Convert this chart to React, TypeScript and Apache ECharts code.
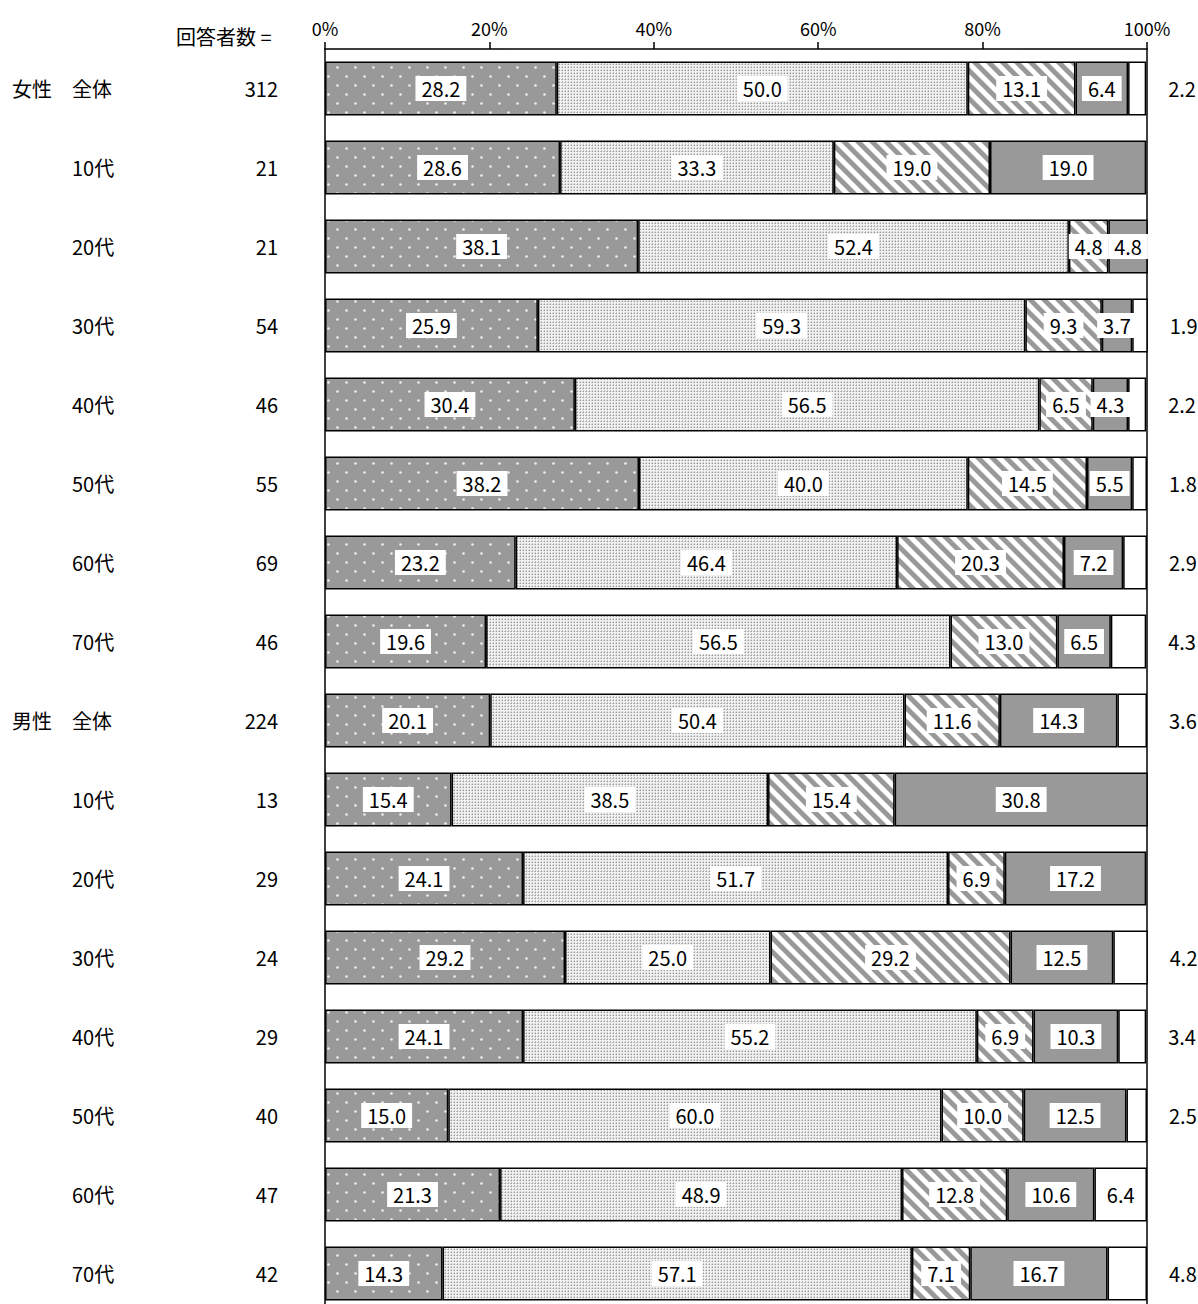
import React, { useEffect, useRef } from "react";
import * as echarts from "echarts";

const genders = ["女性", "", "", "", "", "", "", "", "男性", "", "", "", "", "", "", ""];
const ages = ["全体", "10代", "20代", "30代", "40代", "50代", "60代", "70代", "全体", "10代", "20代", "30代", "40代", "50代", "60代", "70代"];
const counts = ["312", "21", "21", "54", "46", "55", "69", "46", "224", "13", "29", "24", "29", "40", "47", "42"];

const s1 = [28.2, 28.6, 38.1, 25.9, 30.4, 38.2, 23.2, 19.6, 20.1, 15.4, 24.1, 29.2, 24.1, 15.0, 21.3, 14.3];
const s2 = [50.0, 33.3, 52.4, 59.3, 56.5, 40.0, 46.4, 56.5, 50.4, 38.5, 51.7, 25.0, 55.2, 60.0, 48.9, 57.1];
const s3 = [13.1, 19.0, 4.8, 9.3, 6.5, 14.5, 20.3, 13.0, 11.6, 15.4, 6.9, 29.2, 6.9, 10.0, 12.8, 7.1];
const s4 = [6.4, 19.0, 4.8, 3.7, 4.3, 5.5, 7.2, 6.5, 14.3, 30.8, 17.2, 12.5, 10.3, 12.5, 10.6, 16.7];
const s5 = [2.2, 0, 0, 1.9, 2.2, 1.8, 2.9, 4.3, 3.6, 0, 0, 4.2, 3.4, 2.5, 6.4, 4.8];

const xTicks = { min: 0, max: 100, interval: 20 };

const FONT = "'Noto Sans CJK JP', 'Noto Sans', sans-serif";

function makePattern(w: number, h: number, draw: (ctx: CanvasRenderingContext2D) => void) {
  const c = document.createElement("canvas");
  c.width = w;
  c.height = h;
  const ctx = c.getContext("2d") as CanvasRenderingContext2D;
  draw(ctx);
  return { image: c, repeat: "repeat" };
}

function buildPatterns() {
  const p1 = makePattern(18, 18, (ctx) => {
    ctx.fillStyle = "#999999";
    ctx.fillRect(0, 0, 18, 18);
    ctx.fillStyle = "#eeeeee";
    ctx.beginPath();
    ctx.arc(4.5, 4.5, 1.3, 0, Math.PI * 2);
    ctx.fill();
    ctx.beginPath();
    ctx.arc(13.5, 13.5, 1.3, 0, Math.PI * 2);
    ctx.fill();
  });
  const p2 = makePattern(3, 3, (ctx) => {
    ctx.fillStyle = "#f0f0f0";
    ctx.fillRect(0, 0, 3, 3);
    ctx.fillStyle = "#c8c8c8";
    ctx.fillRect(1, 0, 1, 1);
    ctx.fillRect(0, 1, 1, 1);
    ctx.fillStyle = "#999999";
    ctx.fillRect(1, 1, 1, 1);
  });
  const P = 14;
  const p3 = makePattern(P, P, (ctx) => {
    for (let y = 0; y < P; y++) {
      for (let x = 0; x < P; x++) {
        const d = (((x - y) % P) + P) % P;
        ctx.fillStyle = d < 6 ? "#999999" : d === 6 || d === P - 1 ? "#cccccc" : "#ffffff";
        ctx.fillRect(x, y, 1, 1);
      }
    }
  });
  return [p1, p2, p3, "#999999", "#ffffff"];
}

export default function App() {
  const ref = useRef<HTMLDivElement>(null);
  useEffect(() => {
    if (!ref.current) return;
    const chart = echarts.init(ref.current, undefined, { renderer: "svg" });
    const colors = buildPatterns();
    const all = [s1, s2, s3, s4, s5];
    const labelBase = {
      show: true,
      position: "inside",
      color: "#000",
      fontSize: 20,
      fontFamily: FONT,
      backgroundColor: "#fff",
      padding: [3, 6, 2, 6],
      formatter: (p: any) => Number(p.value).toFixed(1),
    };
    const series = all.map((arr, si) => ({
      type: "bar",
      stack: "total",
      barWidth: 54,
      yAxisIndex: 0,
      itemStyle: { color: colors[si], borderColor: "#000", borderWidth: 1.5 },
      label: labelBase,
      data: arr.map((v) => {
        if (v === 0) return "-";
        if (si === 4 && v < 5) {
          return { value: v, label: { position: "right", distance: 16 } };
        }
        return v;
      }),
    }));
    const catAxis = (labels: string[], margin: number, align: string, extra: any = {}) => ({
      type: "category",
      inverse: true,
      position: "left",
      data: ages.map((a, i) => i),
      axisLine: { show: false },
      axisTick: { show: false },
      axisLabel: {
        margin,
        align,
        color: "#000",
        fontSize: 20,
        fontFamily: FONT,
        formatter: (_v: any, i: number) => labels[i],
      },
      ...extra,
    });
    chart.setOption({
      animation: false,
      backgroundColor: "#fff",
      grid: { left: 325, right: 51, top: 49, height: 1264 },
      xAxis: {
        type: "value",
        position: "top",
        min: xTicks.min,
        max: xTicks.max,
        interval: xTicks.interval,
        axisLine: { show: true, lineStyle: { color: "#000", width: 1.5 } },
        axisTick: { show: true, length: 7, lineStyle: { color: "#000", width: 1.5 } },
        splitLine: { show: false },
        axisLabel: {
          margin: 12,
          color: "#000",
          fontSize: 18,
          fontFamily: FONT,
          formatter: "{value}%",
        },
      },
      yAxis: [
        catAxis(genders, 313, "left", { axisLine: { show: true, lineStyle: { color: "#000", width: 1.5 } } }),
        catAxis(ages, 253, "left"),
        catAxis(counts, 47, "right"),
        {
          type: "category",
          inverse: true,
          position: "right",
          data: ages.map((a, i) => i),
          axisLine: { show: true, lineStyle: { color: "#000", width: 1.5 } },
          axisTick: { show: false },
          axisLabel: { show: false },
        },
      ],
      graphic: [
        {
          type: "text",
          left: 176,
          top: 26,
          style: { text: "回答者数 =", fontSize: 20, fontFamily: FONT, fill: "#000" },
        },
      ],
      series,
    });
    return () => chart.dispose();
  }, []);
  return (
    <div
      style={{ position: "absolute", left: 0, top: 0, width: 1198, height: 1304, overflow: "hidden" }}
    >
      <div ref={ref} style={{ width: 1198, height: 1330 }} />
    </div>
  );
}
